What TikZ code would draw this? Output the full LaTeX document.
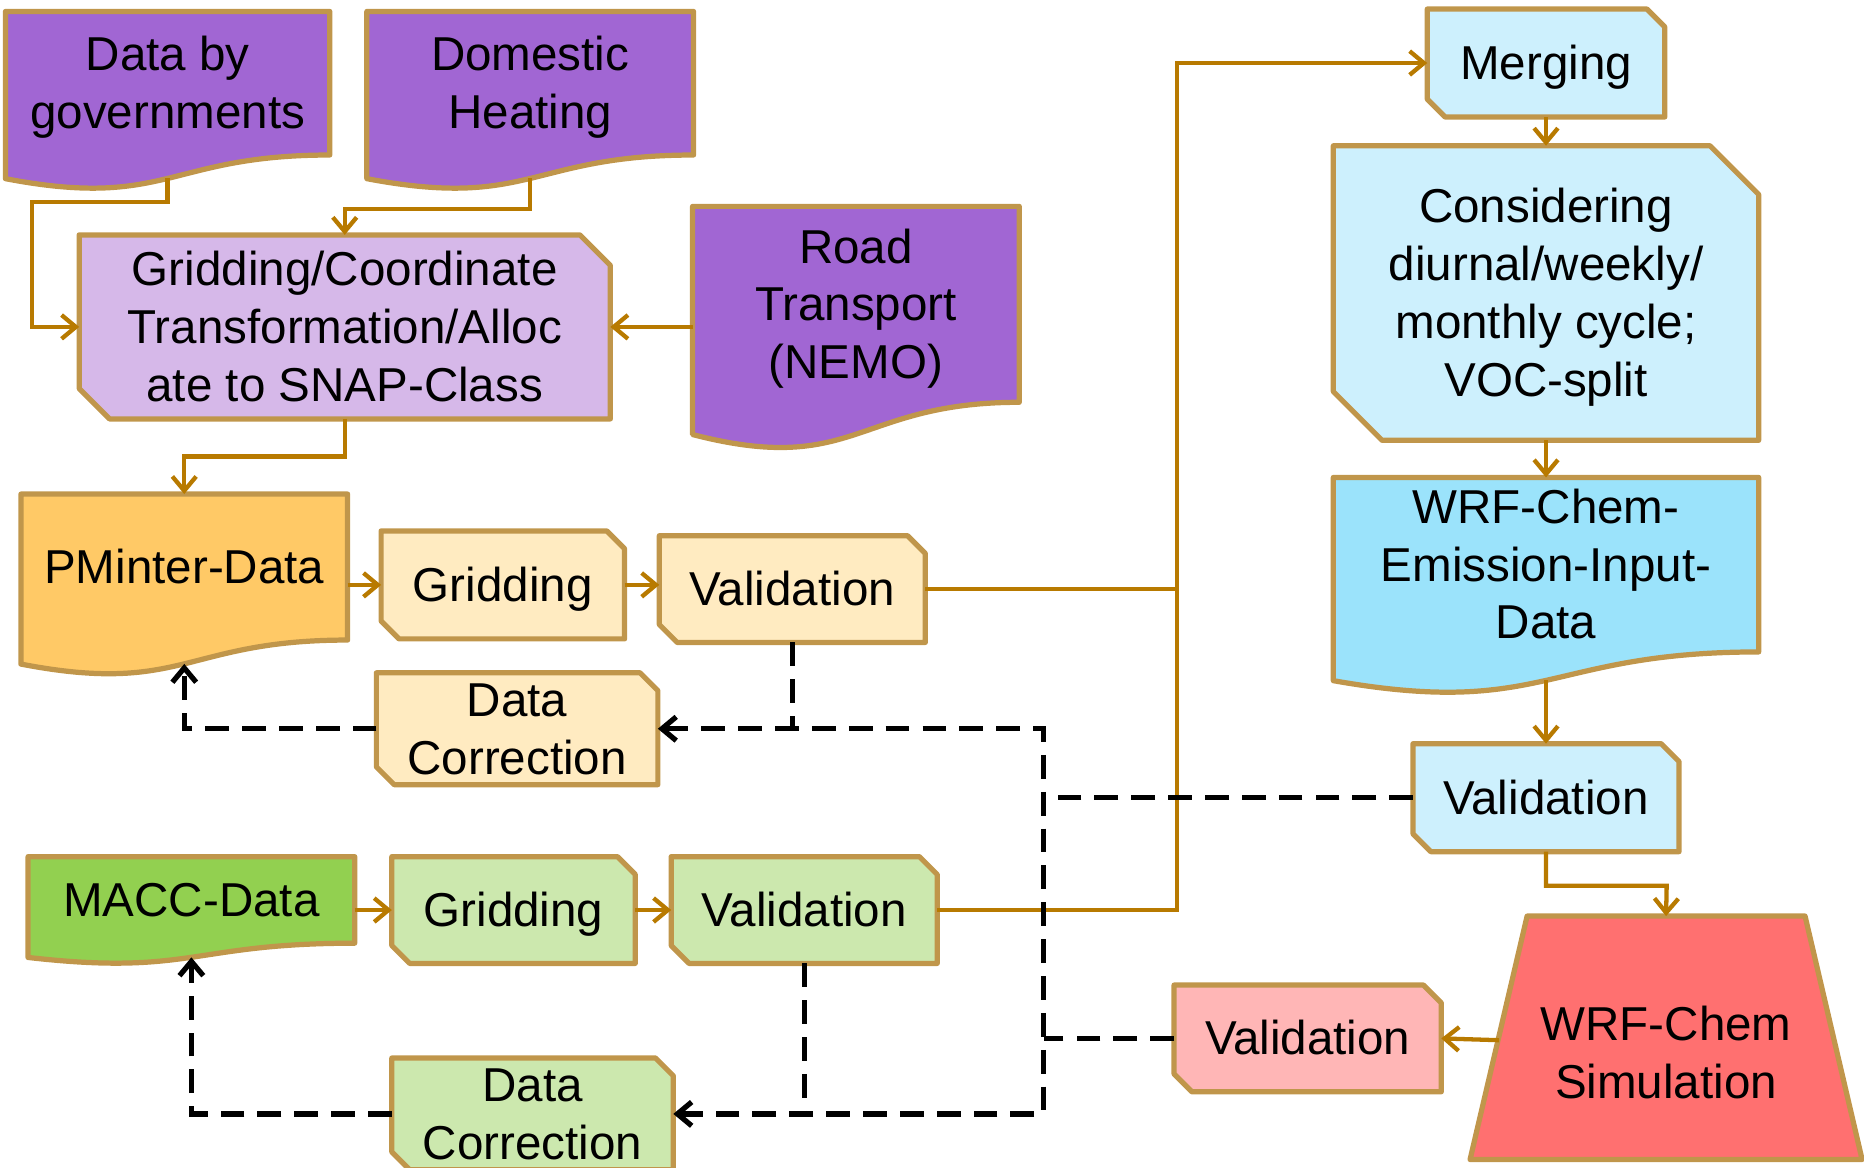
\documentclass[tikz,border=0pt]{standalone}
\usepackage{fontspec}
\setmainfont{Liberation Sans}
\usetikzlibrary{calc,arrows.meta}
\pgfdeclarelayer{bg}
\pgfsetlayers{bg,main}

\definecolor{edgec}{HTML}{C0964B}
\definecolor{connc}{HTML}{B87A00}
\definecolor{srcpurple}{HTML}{A166D3}
\definecolor{lilac}{HTML}{D6B8E9}
\definecolor{pmorange}{HTML}{FFC966}
\definecolor{cream}{HTML}{FFEBC1}
\definecolor{maccgreen}{HTML}{92D050}
\definecolor{palegreen}{HTML}{CCE8AE}
\definecolor{paleblue}{HTML}{CDF0FD}
\definecolor{skyblue}{HTML}{9BE3FB}
\definecolor{simred}{HTML}{FF7070}
\definecolor{pink}{HTML}{FFB6B6}

% line box of the font: ascent and descent, so that text is centred on it
\newcommand\ls{\rule[-0.212em]{0pt}{1.117em}}

\tikzset{
  every node/.style={font=\fontsize{20}{24.3}\selectfont, align=center, inner sep=0pt,
    execute at end node=\ls},
  shapeline/.style={draw=edgec, line width=2.2pt, line join=round},
  tip/.style={-{Straight Barb[length=6pt,width=10pt]}},
  conn/.style={draw=connc, line width=1.8pt, tip},
  plainconn/.style={draw=connc, line width=1.8pt},
  fbk/.style={draw=black, line width=2.2pt, dash pattern=on 10pt off 5.5pt},
  fbkarrow/.style={fbk, tip},
}

% box with the top-right and bottom-left corners snipped off
\newcommand\snipbox[3]{%
  \path[shapeline, fill=#3] (#1.north west) -- ([xshift=-#2]#1.north east)
    -- ([yshift=-#2]#1.north east) -- (#1.south east)
    -- ([xshift=#2]#1.south west) -- ([yshift=#2]#1.south west) -- cycle;}

% document symbol: the node is the upper text part, the wavy hem hangs below it
\newcommand\docbox[2]{%
  \path[shapeline, fill=#2] (#1.north west) -- (#1.north east) -- (#1.south east)
    .. controls (#1.south) and ($(#1.north)!1.380!(#1.south)$)
    .. ($(#1.north west)!1.1646!(#1.south west)$) -- cycle;
  \coordinate (#1-b) at ($(#1.north)!1.1633!(#1.south)$);}

\begin{document}
\begin{tikzpicture}[x=0.5pt, y=-0.5pt]
\useasboundingbox (0,0) rectangle (1568,982);

% ---- emission sources ----
\node (dg) at (141,70) [minimum width=136pt, minimum height=60pt] {\ls Data by\\governments};
\node (dh) at (446,70) [minimum width=137pt, minimum height=60pt] {\ls Domestic\\Heating};
\node (rt) at (720,256) [minimum width=137pt, minimum height=82pt] {\ls Road\\Transport\\(NEMO)};
\node (gc) at (290,275) [minimum width=223pt, minimum height=77pt] {\ls Gridding/Coordinate\\Transformation/Alloc\\ate to SNAP-Class};

% ---- PMinter branch ----
\node (pm) at (155,477) [minimum width=137pt, minimum height=61pt] {\ls PMinter-Data};
\node (grA) at (423,492) [minimum width=102pt, minimum height=45pt] {\ls Gridding};
\node (vaA) at (666.5,495.5) [minimum width=111.5pt, minimum height=44.5pt] {\ls Validation};
\node (dcA) at (435,613) [minimum width=118pt, minimum height=45pt] {\ls Data\\Correction};

% ---- MACC branch ----
\node (macc) at (161,757) [minimum width=137pt, minimum height=36pt] {\ls MACC-Data};
\node (grG) at (432,765.5) [minimum width=102pt, minimum height=44.5pt] {\ls Gridding};
\node (vaG) at (676.5,765.5) [minimum width=111.5pt, minimum height=44.5pt] {\ls Validation};
\node (dcG) at (448,937) [minimum width=118pt, minimum height=45pt] {\ls Data\\Correction};

% ---- processing chain ----
\node (merge) at (1300.5,53) [minimum width=99.5pt, minimum height=45pt] {\ls Merging};
\node (cons) at (1300.5,246.5) [minimum width=178.5pt, minimum height=123.5pt] {\ls Considering\\diurnal/weekly/\\monthly cycle;\\VOC-split};
\node (wrfe) at (1300.5,475) [minimum width=178.5pt, minimum height=73pt] {\ls WRF-Chem-\\Emission-Input-\\Data};
\node (vaB) at (1300.5,671) [minimum width=111.5pt, minimum height=45pt] {\ls Validation};
\node (sim) at (1401.5,885.5) [minimum width=164.5pt, minimum height=89.5pt] {\ls WRF-Chem\\Simulation};
\node (vaP) at (1100,873.5) [minimum width=112pt, minimum height=44.5pt] {\ls Validation};

\begin{pgfonlayer}{bg}
  \docbox{dg}{srcpurple}
  \docbox{dh}{srcpurple}
  \docbox{rt}{srcpurple}
  \snipbox{gc}{12.8pt}{lilac}
  \docbox{pm}{pmorange}
  \snipbox{grA}{7.5pt}{cream}
  \snipbox{vaA}{7.5pt}{cream}
  \snipbox{dcA}{7.5pt}{cream}
  \docbox{macc}{maccgreen}
  \snipbox{grG}{7.5pt}{palegreen}
  \snipbox{vaG}{7.5pt}{palegreen}
  \snipbox{dcG}{7.5pt}{palegreen}
  \snipbox{merge}{7.5pt}{paleblue}
  \snipbox{cons}{20.5pt}{paleblue}
  \docbox{wrfe}{skyblue}
  \snipbox{vaB}{7.5pt}{paleblue}
  \snipbox{vaP}{7.5pt}{pink}
  % trapezoid of the simulation step
  \coordinate (sim-t) at ([yshift=12.5pt]sim.north);
  \coordinate (sim-w) at (1261,875);
  \path[shapeline, fill=simred] ([xshift=24pt]sim-t -| sim.west) -- ([xshift=-24pt]sim-t -| sim.east)
    -- (sim.south east) -- (sim.south west) -- cycle;
\end{pgfonlayer}

% ---- solid data flow ----
\draw[conn] (dg-b) |- (27,170) |- (gc.west);
\draw[conn] (dh-b) |- (290,176) -- (gc.north);
\draw[conn] (gc.east -| rt.west) -- (gc.east);
\draw[conn] (gc.south) |- (155,384) -- (pm.north);
\draw[conn] (grA.west -| pm.east) -- (grA.west);
\draw[conn] (grA.east) -- (grA.east -| vaA.west);
\coordinate (jx) at (990,495.5);
\draw[conn] (vaA.east) -- (jx) |- (merge.west);
\draw[plainconn] (vaG.east) -| (jx);
\draw[conn] (grG.west -| macc.east) -- (grG.west);
\draw[conn] (grG.east) -- (vaG.west);
\draw[conn] (merge.south) -- (cons.north);
\draw[conn] (cons.south) -- (wrfe.north);
\draw[conn] (wrfe-b) -- (vaB.north);
\draw[conn] (vaB.south) |- (1402,745) -- (sim-t);
\draw[conn] (sim-w) -- (vaP.east);

% ---- dashed correction feedback ----
\coordinate (fx) at (878,700);
\draw[fbk] (vaA.south) -- (vaA.south |- dcA.east);
\draw[fbk] (vaG.south) -- (vaG.south |- dcG.east);
\draw[fbk, {Straight Barb[length=6pt,width=10pt]}-{Straight Barb[length=6pt,width=10pt]}] (dcA.east) -| (fx) |- (dcG.east);
\draw[fbk] (vaB.west) -- (vaB.west -| fx);
\draw[fbk] (vaP.west) -- (vaP.west -| fx);
\draw[fbkarrow] (dcA.west) -| (pm-b);
\draw[fbkarrow] (dcG.west) -| (macc-b);
\end{tikzpicture}
\end{document}
